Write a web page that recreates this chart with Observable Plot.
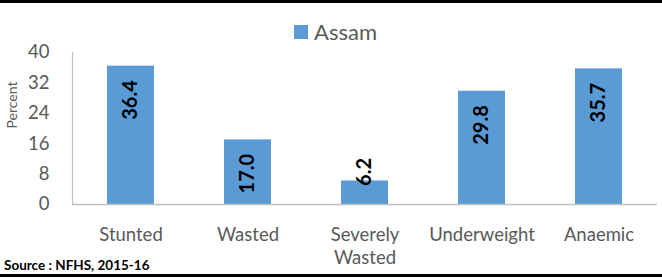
<!DOCTYPE html>
<html>
<head>
<meta charset="utf-8">
<script src="https://cdn.jsdelivr.net/npm/d3@7"></script>
<script src="https://cdn.jsdelivr.net/npm/@observablehq/plot@0.6"></script>
<style>
  html, body { margin: 0; padding: 0; background: #fff; }
  #wrap { position: relative; width: 662px; height: 278px; overflow: hidden; font-family: Lato, "Open Sans", sans-serif; }
  #chart { position: absolute; left: 0; top: 0; }
  .topline { position: absolute; left: 0; top: 0; width: 662px; height: 3px; background: #000; }
  .botline { position: absolute; left: 0; top: 274px; width: 662px; height: 3px; background: #000; }
  .legend { position: absolute; left: 294px; top: 20px; display: flex; align-items: center; color: #595959; font-size: 22px; line-height: 24px; }
  .legend .sw { width: 14px; height: 14px; background: #5B9BD5; margin-right: 6px; }
  .source { position: absolute; left: 4px; top: 257px; font-size: 13.5px; font-weight: bold; color: #000; line-height: 16px; }
</style>
</head>
<body>
<div id="wrap">
  <div id="chart"></div>
  <div class="topline"></div>
  <div class="botline"></div>
  <div class="legend"><div class="sw"></div><span id="legname"></span></div>
  <div class="source" id="source"></div>
</div>
<script>
const categories = ["Stunted", "Wasted", "Severely\nWasted", "Underweight", "Anaemic"];
const values = [36.4, 17.0, 6.2, 29.8, 35.7];
const yTicks = [0, 8, 16, 24, 32, 40];
const seriesName = "Assam";
const yLabel = "Percent";
const sourceText = "Source : NFHS, 2015-16";

const data = categories.map((c, i) => ({cat: c, value: values[i]}));

document.getElementById("legname").textContent = seriesName;
document.getElementById("source").textContent = sourceText;

const gray = "#595959";
const chart = Plot.plot({
  width: 662,
  height: 278,
  marginLeft: 72,
  marginRight: 5,
  marginTop: 52,
  marginBottom: 74,
  style: {fontFamily: "Lato, 'Open Sans', sans-serif", background: "transparent", color: gray},
  x: {domain: categories, paddingInner: 0.6, paddingOuter: 0.3, label: null},
  y: {domain: [0, 40], label: null},
  marks: [
    Plot.barY(data, {x: "cat", y: "value", fill: "#5B9BD5"}),
    Plot.frame({anchor: "left", stroke: "#BFBFBF", strokeWidth: 1.2}),
    Plot.ruleY([0], {stroke: "#BFBFBF", strokeWidth: 1.5}),
    Plot.axisY({ticks: yTicks, tickSize: 0, tickPadding: 23, fontSize: 18.5, fill: gray, label: null}),
    Plot.axisX({tickSize: 0, tickPadding: 20, fontSize: 18.5, lineHeight: 1.24, fill: gray, label: null}),
    Plot.text([yLabel], {frameAnchor: "left", rotate: -90, dx: -60, fontSize: 14, fill: gray}),
    Plot.text(data.filter(d => d.value >= 10), {x: "cat", y: "value", text: d => d.value.toFixed(1), rotate: -90, textAnchor: "end", dy: 14, fontWeight: "bold", fontSize: 20, fill: "#000"}),
    Plot.text(data.filter(d => d.value < 10), {x: "cat", y: "value", text: d => d.value.toFixed(1), rotate: -90, textAnchor: "start", dy: 5, fontWeight: "bold", fontSize: 20, fill: "#000"})
  ]
});
document.getElementById("chart").appendChild(chart);
</script>
</body>
</html>
